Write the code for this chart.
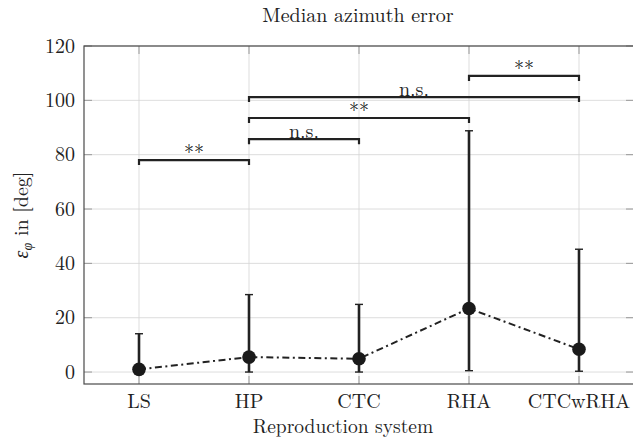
<!DOCTYPE html>
<html>
<head>
<meta charset="utf-8">
<script src="https://cdn.jsdelivr.net/npm/d3@7"></script>
<style>
  body { margin: 0; background: #fff; }
</style>
</head>
<body>
<div id="chart"></div>
<script>
const width = 633;
const height = 439;
const margin = { top: 46, right: -1, bottom: 55, left: 84 };

const systems = ["LS", "HP", "CTC", "RHA", "CTCwRHA"];
const medians = [1.0, 5.5, 4.9, 23.4, 8.4];
const lows = [0, 0, 0, 0.5, 0.3];
const highs = [14.1, 28.5, 24.9, 88.8, 45.2];
const yTicks = [0, 20, 40, 60, 80, 100, 120];

// significance brackets: [from, to, level, label]
const brackets = [
  ["LS", "HP", 78, "**"],
  ["HP", "CTC", 85.7, "n.s."],
  ["HP", "RHA", 93.5, "**"],
  ["HP", "CTCwRHA", 101.2, "n.s."],
  ["RHA", "CTCwRHA", 109, "**"],
];

const font = "'Latin Modern Roman', 'CMU Serif', 'Liberation Serif', serif";

const svg = d3
  .create("svg")
  .attr("width", width)
  .attr("height", height)
  .attr("font-family", font);

const x = d3
  .scalePoint()
  .domain(systems)
  .range([margin.left, width - margin.right])
  .padding(0.5);

const y = d3
  .scaleLinear()
  .domain([-4.4, 120])
  .range([height - margin.bottom, margin.top]);

const x0 = margin.left;
const x1 = width - margin.right;
const yTop = margin.top;
const yBot = height - margin.bottom;

// grid
svg
  .append("g")
  .attr("stroke", "#d4d4d4")
  .attr("stroke-width", 0.8)
  .call((g) =>
    g
      .selectAll("line.h")
      .data(yTicks)
      .join("line")
      .attr("class", "h")
      .attr("x1", x0)
      .attr("x2", x1)
      .attr("y1", (d) => y(d))
      .attr("y2", (d) => y(d))
  )
  .call((g) =>
    g
      .selectAll("line.v")
      .data(systems)
      .join("line")
      .attr("class", "v")
      .attr("x1", (d) => x(d))
      .attr("x2", (d) => x(d))
      .attr("y1", yTop)
      .attr("y2", yBot)
  );

// inward ticks on all sides
const ticks = svg.append("g").attr("stroke", "#999").attr("stroke-width", 1);
yTicks.forEach((d) => {
  ticks.append("line").attr("x1", x0).attr("x2", x0 + 8).attr("y1", y(d)).attr("y2", y(d));
  ticks.append("line").attr("x1", x1 - 8).attr("x2", x1).attr("y1", y(d)).attr("y2", y(d));
});
systems.forEach((d) => {
  ticks.append("line").attr("x1", x(d)).attr("x2", x(d)).attr("y1", yBot).attr("y2", yBot - 8);
  ticks.append("line").attr("x1", x(d)).attr("x2", x(d)).attr("y1", yTop).attr("y2", yTop + 8);
});

// frame
svg
  .append("rect")
  .attr("x", x0)
  .attr("y", yTop)
  .attr("width", x1 - x0)
  .attr("height", yBot - yTop)
  .attr("fill", "none")
  .attr("stroke", "#4a4a4a")
  .attr("stroke-width", 1.2);

// axis labels
svg
  .append("g")
  .selectAll("text")
  .data(yTicks)
  .join("text")
  .attr("x", x0 - 9)
  .attr("y", (d) => y(d))
  .attr("dy", "0.33em")
  .attr("text-anchor", "end")
  .attr("font-size", 20)
  .attr("fill", "#222")
  .text((d) => d);

svg
  .append("g")
  .selectAll("text")
  .data(systems)
  .join("text")
  .attr("x", (d) => x(d))
  .attr("y", 408)
  .attr("text-anchor", "middle")
  .attr("font-size", 20)
  .attr("fill", "#222")
  .text((d) => d);

svg
  .append("text")
  .attr("x", 343)
  .attr("y", 433)
  .attr("text-anchor", "middle")
  .attr("font-size", 19.5)
  .attr("fill", "#222")
  .text("Reproduction system");

svg
  .append("text")
  .attr("x", 358)
  .attr("y", 22)
  .attr("text-anchor", "middle")
  .attr("font-size", 20)
  .attr("fill", "#222")
  .text("Median azimuth error");

const yl = svg
  .append("text")
  .attr("transform", `translate(28,215) rotate(-90)`)
  .attr("text-anchor", "middle")
  .attr("font-size", 20)
  .attr("fill", "#222");
yl.append("tspan").attr("font-style", "italic").text("ε");
yl.append("tspan").attr("font-style", "italic").attr("font-size", 14).attr("dy", 4).text("φ");
yl.append("tspan").attr("dy", -4).text(" in [deg]");

// error bars
const eb = svg.append("g").attr("stroke", "#222").attr("stroke-width", 2.6);
systems.forEach((s, i) => {
  eb.append("line").attr("x1", x(s)).attr("x2", x(s)).attr("y1", y(lows[i])).attr("y2", y(highs[i]));
  [lows[i], highs[i]].forEach((v) =>
    eb
      .append("line")
      .attr("stroke-width", 1.4)
      .attr("x1", x(s) - 4)
      .attr("x2", x(s) + 4)
      .attr("y1", y(v))
      .attr("y2", y(v))
  );
});

// median line
const line = d3
  .line()
  .x((d, i) => x(systems[i]))
  .y((d) => y(d));

svg
  .append("path")
  .datum(medians)
  .attr("d", line)
  .attr("fill", "none")
  .attr("stroke", "#222")
  .attr("stroke-width", 2)
  .attr("stroke-dasharray", "7 3.5 2 3.5");

svg
  .append("g")
  .selectAll("circle")
  .data(medians)
  .join("circle")
  .attr("cx", (d, i) => x(systems[i]))
  .attr("cy", (d) => y(d))
  .attr("r", 6.8)
  .attr("fill", "#1a1a1a");

// brackets
const br = svg.append("g");
brackets.forEach(([a, b, lvl, label]) => {
  const yy = y(lvl);
  br.append("path")
    .attr("d", `M${x(a)},${yy + 5}V${yy}H${x(b)}V${yy + 5}`)
    .attr("fill", "none")
    .attr("stroke", "#222")
    .attr("stroke-width", 2.2);
  br.append("text")
    .attr("x", (x(a) + x(b)) / 2)
    .attr("y", yy - 1)
    .attr("text-anchor", "middle")
    .attr("font-size", 20)
    .attr("fill", "#222")
    .text(label);
});

document.getElementById("chart").appendChild(svg.node());
</script>
</body>
</html>
